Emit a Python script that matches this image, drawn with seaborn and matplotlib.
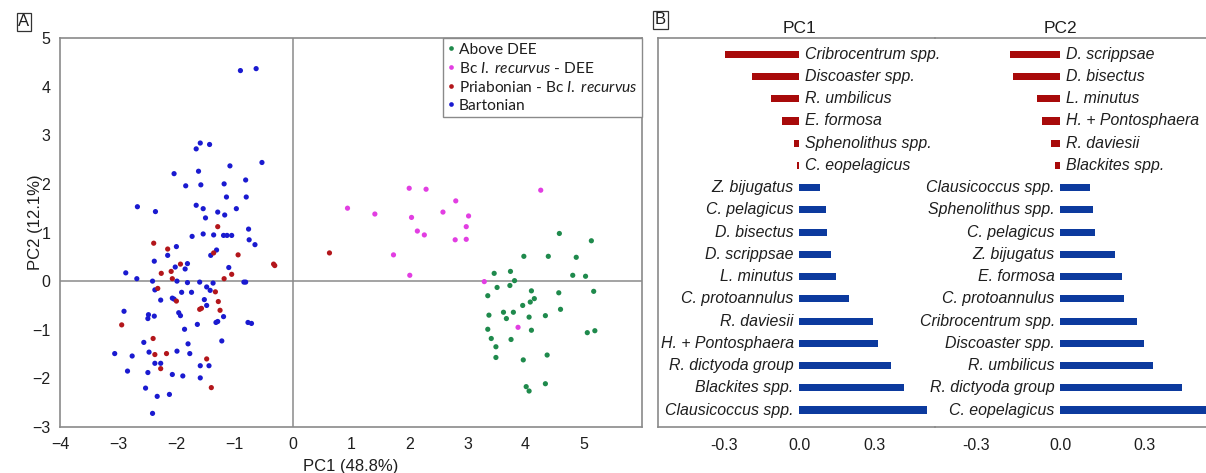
import matplotlib
matplotlib.use("Agg")
import matplotlib.pyplot as plt
import matplotlib.transforms as mtransforms
from matplotlib.ticker import FormatStrFormatter
import pandas as pd
import seaborn as sns

# ---------------- Panel A: PCA sample scores ----------------
bartonian_pc1 = [-0.90, -0.63, -1.59, -1.66, -1.43, -0.53, -1.08, -2.04, -1.62, -1.84,
                 -1.58, -1.18, -0.81, -1.14, -0.80, -2.67, -2.36, -1.66, -1.54, -0.97,
                 -1.29, -1.17, -1.50, -0.76, -1.73, -1.54, -1.36, -1.19, -1.13, -1.05,
                 -0.75, -0.65, -2.15, -2.00, -1.41, -1.31, -2.87, -2.68, -2.38, -2.02,
                 -1.81, -1.85, -1.99, -2.41, -1.81, -1.60, -1.10, -1.37, -0.84, -0.81,
                 -2.37, -2.27, -1.91, -1.74, -1.48, -1.42, -2.07, -2.04, -1.52, -1.48,
                 -1.19, -1.29, -1.32, -2.90, -2.48, -2.49, -2.38, -1.96, -1.93, -1.64,
                 -0.77, -0.71, -1.86, -1.22, -2.56, -1.80, -3.06, -2.76, -2.47, -1.99,
                 -1.77, -2.84, -2.49, -2.37, -2.27, -2.07, -1.89, -1.59, -1.44, -1.59,
                 -2.53, -2.33, -2.12, -2.41]
bartonian_pc2 = [4.33, 4.37, 2.84, 2.72, 2.81, 2.44, 2.37, 2.21, 2.26, 1.96,
                 1.98, 2.00, 2.08, 1.73, 1.73, 1.53, 1.43, 1.56, 1.49, 1.49,
                 1.42, 1.36, 1.30, 1.07, 0.92, 0.97, 0.95, 0.94, 0.94, 0.94,
                 0.85, 0.75, 0.53, 0.71, 0.53, 0.64, 0.17, 0.05, 0.41, 0.29,
                 0.36, 0.25, 0.00, 0.00, -0.03, -0.02, 0.28, -0.04, -0.02, -0.02,
                 -0.18, -0.39, -0.23, -0.23, -0.12, -0.19, -0.35, -0.37, -0.38, -0.50,
                 -0.73, -0.83, -0.85, -0.62, -0.69, -0.77, -0.72, -0.65, -0.71, -0.89,
                 -0.85, -0.87, -0.99, -1.23, -1.26, -1.29, -1.49, -1.54, -1.46, -1.44,
                 -1.49, -1.85, -1.88, -1.69, -1.69, -1.92, -1.95, -1.74, -1.74, -1.99,
                 -2.20, -2.37, -2.33, -2.72]

priabonian_pc1 = [-1.29, -2.39, -2.15, -1.36, -0.94, -0.33, -0.31, -2.26, -1.93, -2.09,
                  -2.07, -1.18, -1.05, -2.32, -1.33, -2.00, -1.28, -1.60, -1.57, -1.25,
                  -2.94, -2.40, -2.37, -2.17, -1.48, -2.27, -1.40, 0.63]
priabonian_pc2 = [1.12, 0.78, 0.66, 0.58, 0.54, 0.35, 0.32, 0.16, 0.35, 0.20,
                  0.05, 0.05, 0.14, -0.15, -0.22, -0.41, -0.42, -0.58, -0.56, -0.60,
                  -0.90, -1.18, -1.51, -1.49, -1.60, -1.80, -2.19, 0.58]

recurvus_dee_pc1 = [0.94, 1.41, 2.00, 2.29, 2.80, 2.04, 2.58, 3.02, 2.98, 2.14,
                    2.26, 2.79, 2.98, 1.73, 2.01, 4.26, 3.29, 3.87]
recurvus_dee_pc2 = [1.50, 1.38, 1.91, 1.89, 1.65, 1.31, 1.42, 1.34, 1.12, 1.03,
                    0.95, 0.85, 0.86, 0.54, 0.12, 1.87, -0.01, -0.95]

above_dee_pc1 = [4.58, 5.13, 3.97, 4.39, 4.87, 3.46, 3.74, 4.81, 5.03, 3.81,
                 3.73, 3.51, 4.10, 4.57, 5.17, 3.35, 4.15, 4.08, 3.95, 4.60,
                 3.62, 3.79, 3.37, 4.34, 4.06, 3.67, 3.35, 4.10, 5.06, 5.19,
                 3.41, 3.75, 3.49, 3.49, 3.96, 4.37, 4.34, 4.01, 4.06]
above_dee_pc2 = [0.98, 0.83, 0.51, 0.51, 0.49, 0.16, 0.20, 0.12, 0.10, 0.01,
                 -0.09, -0.13, -0.20, -0.24, -0.21, -0.30, -0.36, -0.43, -0.50, -0.58,
                 -0.64, -0.64, -0.70, -0.71, -0.74, -0.77, -0.99, -1.01, -1.06, -1.02,
                 -1.18, -1.20, -1.35, -1.57, -1.62, -1.52, -2.11, -2.17, -2.26]

group_names = ["Above DEE", "Bc I. recurvus - DEE",
               "Priabonian - Bc I. recurvus", "Bartonian"]
legend_labels = ["Above DEE",
                 r"Bc $\mathit{I.\ recurvus}$ - DEE",
                 r"Priabonian - Bc $\mathit{I.\ recurvus}$",
                 "Bartonian"]
group_colors = ["#1f8a4c", "#e23ee2", "#b3161b", "#1a1ad0"]

# ---------------- Panel B: PCA loadings ----------------
pc1_taxa = ["Cribrocentrum spp.", "Discoaster spp.", "R. umbilicus", "E. formosa",
            "Sphenolithus spp.", "C. eopelagicus", "Z. bijugatus", "C. pelagicus",
            "D. bisectus", "D. scrippsae", "L. minutus", "C. protoannulus",
            "R. daviesii", "H. + Pontosphaera", "R. dictyoda group",
            "Blackites spp.", "Clausicoccus spp."]
pc1_loadings = [-0.295, -0.189, -0.113, -0.068, -0.020, -0.010, 0.082, 0.105,
                0.111, 0.125, 0.146, 0.197, 0.295, 0.315, 0.367, 0.417, 0.509]

pc2_taxa = ["D. scrippsae", "D. bisectus", "L. minutus", "H. + Pontosphaera",
            "R. daviesii", "Blackites spp.", "Clausicoccus spp.", "Sphenolithus spp.",
            "C. pelagicus", "Z. bijugatus", "E. formosa", "C. protoannulus",
            "Cribrocentrum spp.", "Discoaster spp.", "R. umbilicus",
            "R. dictyoda group", "C. eopelagicus"]
pc2_loadings = [-0.181, -0.170, -0.083, -0.065, -0.032, -0.019, 0.107, 0.115,
                0.125, 0.196, 0.220, 0.229, 0.274, 0.298, 0.329, 0.433, 0.56]

loading_ticks = [-0.3, 0.0, 0.3]
neg_color = "#a80a0a"
pos_color = "#0c3a9e"

# ---------------- style ----------------
sns.set_style("white")
plt.rcParams["font.family"] = ["Liberation Sans", "DejaVu Sans"]
plt.rcParams["mathtext.fontset"] = "custom"
plt.rcParams["mathtext.rm"] = "Lato"
plt.rcParams["mathtext.it"] = "Lato:italic"
spine_col = "#8a8a8a"
text_col = "#1e1e1e"

fig = plt.figure(figsize=(12.06, 4.73), dpi=100)
W, H = 1206, 473


def px_axes(left, top, right, bottom):
    return [left / W, 1 - bottom / H, (right - left) / W, (bottom - top) / H]


# ---------------- Panel A ----------------
ax_a = fig.add_axes(px_axes(60, 38, 642, 427))
frames = []
for name, xs, ys in [("Bartonian", bartonian_pc1, bartonian_pc2),
                     ("Priabonian - Bc I. recurvus", priabonian_pc1, priabonian_pc2),
                     ("Bc I. recurvus - DEE", recurvus_dee_pc1, recurvus_dee_pc2),
                     ("Above DEE", above_dee_pc1, above_dee_pc2)]:
    frames.append(pd.DataFrame({"PC1": xs, "PC2": ys, "group": name}))
scores = pd.concat(frames, ignore_index=True)

ax_a.axhline(0, color=spine_col, lw=1.1, zorder=0)
ax_a.axvline(0, color=spine_col, lw=1.1, zorder=0)
sns.scatterplot(data=scores, x="PC1", y="PC2", hue="group", hue_order=group_names,
                palette=group_colors, s=14, linewidth=0, ax=ax_a, zorder=3)
ax_a.set_xlim(-4, 6)
ax_a.set_ylim(-3, 5)
ax_a.set_xticks(range(-4, 6))
ax_a.set_yticks(range(-3, 6))
ax_a.tick_params(direction="out", length=4, width=1, color=spine_col,
                 labelsize=11.5, labelcolor=text_col, pad=3)
for s in ax_a.spines.values():
    s.set_color(spine_col)
    s.set_linewidth(1.2)
ax_a.set_xlabel("PC1 (48.8%)", fontsize=12, color=text_col)
ax_a.set_ylabel("PC2 (12.1%)", fontsize=12, color=text_col)
ax_a.xaxis.set_label_coords(0.5, -0.083)
ax_a.yaxis.set_label_coords(-0.03, 0.527)

handles, _ = ax_a.get_legend_handles_labels()
leg = ax_a.legend(handles, legend_labels, loc="upper right", borderaxespad=0,
                  frameon=True, fancybox=False, framealpha=1, edgecolor=spine_col,
                  handlelength=0.4, handletextpad=0.3, borderpad=0.3,
                  labelspacing=0.26, markerscale=0.9,
                  prop={"family": "Lato", "size": 11.2})
leg.get_frame().set_linewidth(1.0)
for t in leg.get_texts():
    t.set_color(text_col)

# ---------------- Panel B ----------------
split = 935
ax_b1 = fig.add_axes(px_axes(658, 38, split, 427))
ax_b2 = fig.add_axes(px_axes(split, 38, 1206, 427))
ax_b2.patch.set_visible(False)

n_rows = len(pc1_taxa)
row_top, row_bottom = 54.3, 410.0
row_px = (row_bottom - row_top) / (n_rows - 1)
y_lo = (n_rows - 1) + (427 - row_bottom) / row_px
y_hi = -(row_top - 38) / row_px

panels = [(ax_b1, pc1_taxa, pc1_loadings, "PC1", (-0.563, 0.541)),
          (ax_b2, pc2_taxa, pc2_loadings, "PC2", (-0.4475, 0.520))]
for ax, taxa, loads, title, xlim in panels:
    sign = ["neg" if v < 0 else "pos" for v in loads]
    sns.barplot(x=loads, y=taxa, hue=sign, palette={"neg": neg_color, "pos": pos_color},
                orient="h", width=0.32, dodge=False, saturation=1, legend=False,
                linewidth=0, ax=ax)
    ax.set_xlim(*xlim)
    ax.set_ylim(y_lo, y_hi)
    ax.set_yticks([])
    ax.set_ylabel("")
    ax.set_xlabel("")
    ax.set_xticks(loading_ticks)
    ax.xaxis.set_major_formatter(FormatStrFormatter("%.1f"))
    ax.tick_params(axis="x", direction="out", length=4, width=1, color=spine_col,
                   labelsize=11.5, labelcolor=text_col, pad=4)
    for i, (name, v) in enumerate(zip(taxa, loads)):
        ax.annotate(name, xy=(0, i), xytext=(4 if v < 0 else -4, 0),
                    textcoords="offset points", ha="left" if v < 0 else "right",
                    va="center", style="italic", fontsize=11.4, color=text_col,
                    annotation_clip=False)
    trans = mtransforms.blended_transform_factory(ax.transData, ax.transAxes)
    ax.text(0, 1.004, title, transform=trans, ha="center", va="bottom",
            fontsize=12.5, color=text_col)
    for s in ax.spines.values():
        s.set_color(spine_col)
        s.set_linewidth(1.2)

ax_b1.spines["right"].set_visible(False)
ax_b2.spines["left"].set_visible(False)
ax_b2.spines["right"].set_visible(False)

# panel letters
for label, (cx, cy) in [("A", (24, 22)), ("B", (660.5, 20))]:
    fig.text(cx / W, 1 - cy / H, label, ha="center", va="center", fontsize=12,
             color=text_col,
             bbox=dict(boxstyle="square,pad=0.1", fc="white", ec="#333333", lw=0.9))

fig.savefig("out.png", dpi=100)
